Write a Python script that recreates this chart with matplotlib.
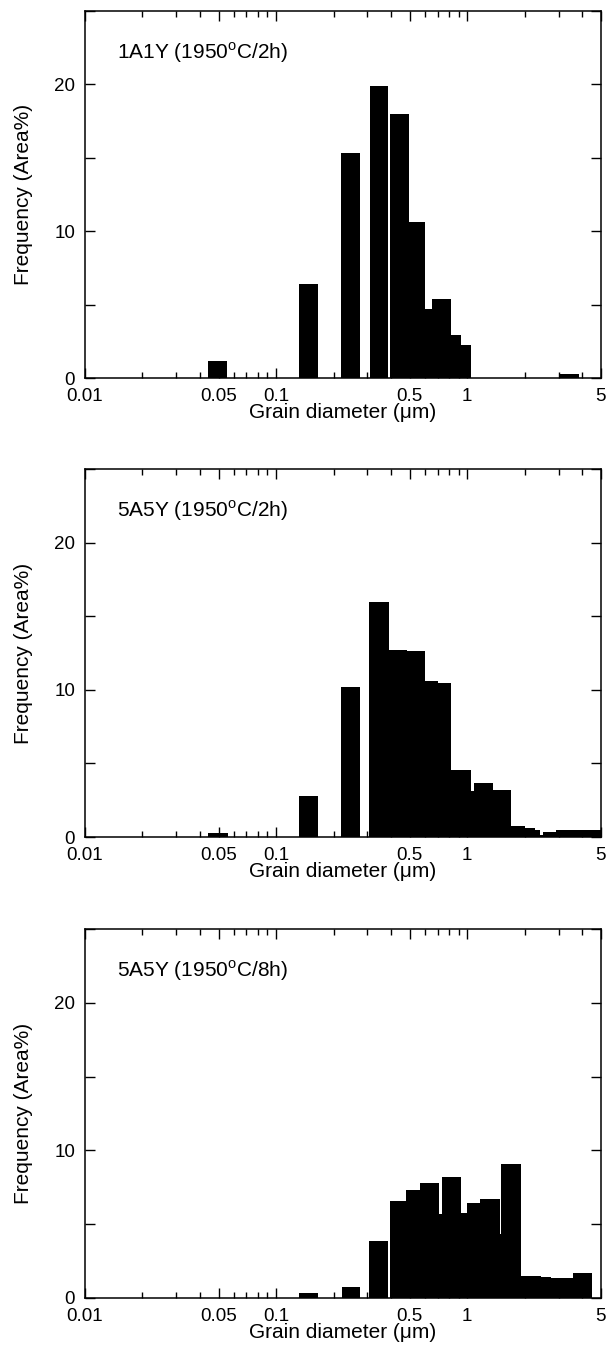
import numpy as np
import matplotlib
matplotlib.use('Agg')
import matplotlib.pyplot as plt
from matplotlib.ticker import FixedLocator, LogLocator, NullFormatter, MultipleLocator

plt.rcParams['font.family'] = ['Liberation Sans', 'DejaVu Sans']
plt.rcParams['mathtext.fontset'] = 'custom'
plt.rcParams['mathtext.rm'] = 'Liberation Sans'

# grain diameter bins (um): visible left / right edge of each bar
# and the frequency (area %) of that bar

# 1A1Y (1950C/2h)
left_1 = [0.0442, 0.132, 0.219, 0.308, 0.394, 0.497, 0.602, 0.657, 0.823, 0.927, 3.04]
right_1 = [0.0556, 0.1655, 0.275, 0.3845, 0.497, 0.602, 0.657, 0.823, 0.927, 1.04, 3.86]
freq_1 = [1.13, 6.41, 15.36, 19.93, 17.97, 10.62, 4.68, 5.36, 2.92, 2.28, 0.27]

# 5A5Y (1950C/2h)
left_2 = [0.0439, 0.132, 0.218, 0.306, 0.391, 0.483, 0.602, 0.706, 0.823, 1.043,
          1.088, 1.366, 1.70, 2.0, 2.25, 2.39, 2.49, 2.92, 3.23]
right_2 = [0.0558, 0.1655, 0.276, 0.388, 0.483, 0.602, 0.706, 0.823, 1.043, 1.088,
           1.366, 1.70, 2.0, 2.25, 2.39, 2.49, 2.92, 3.23, 5.0]
freq_2 = [0.25, 2.77, 10.18, 15.95, 12.73, 12.66, 10.59, 10.47, 4.55, 3.16,
          3.68, 3.22, 0.72, 0.61, 0.45, 0.15, 0.34, 0.45, 0.5]

# 5A5Y (1950C/8h)
left_3 = [0.132, 0.22, 0.3076, 0.3925, 0.477, 0.567, 0.712, 0.735, 0.927, 1.0,
          1.164, 1.48, 1.509, 1.918, 2.438, 2.749, 3.565]
right_3 = [0.1655, 0.275, 0.3845, 0.477, 0.567, 0.712, 0.735, 0.927, 1.0, 1.164,
           1.48, 1.509, 1.918, 2.438, 2.749, 3.565, 4.477]
freq_3 = [0.34, 0.73, 3.86, 6.58, 7.31, 7.76, 5.67, 8.21, 5.78, 6.46,
          6.73, 4.31, 9.07, 1.48, 1.43, 1.36, 1.68]

labels = ['1A1Y (1950$^{\\mathregular{o}}$C/2h)',
          '5A5Y (1950$^{\\mathregular{o}}$C/2h)',
          '5A5Y (1950$^{\\mathregular{o}}$C/8h)']

x_ticks = [0.01, 0.05, 0.1, 0.5, 1, 5]
x_ticklabels = ['0.01', '0.05', '0.1', '0.5', '1', '5']


def plot_panel(ax, left, right, freq, label):
    left = np.array(left)
    right = np.array(right)
    ax.bar(left, freq, width=right - left, align='edge', color='black', linewidth=0)

    ax.set_xscale('log')
    ax.set_xlim(0.01, 5)
    ax.set_ylim(0, 25)

    ax.xaxis.set_major_locator(FixedLocator(x_ticks))
    ax.set_xticklabels(x_ticklabels)
    ax.xaxis.set_minor_locator(LogLocator(base=10, subs=np.arange(2, 10)))
    ax.xaxis.set_minor_formatter(NullFormatter())
    ax.yaxis.set_major_locator(FixedLocator([0, 10, 20]))
    ax.yaxis.set_minor_locator(MultipleLocator(5))

    ax.tick_params(which='both', direction='in', top=True, right=True,
                   width=1.0, labelsize=13.5)
    ax.tick_params(axis='x', which='major', length=7, pad=7)
    ax.tick_params(axis='x', which='minor', length=4)
    ax.tick_params(axis='y', which='both', length=7, pad=7)
    for sp in ax.spines.values():
        sp.set_linewidth(1.1)

    ax.set_xlabel('Grain diameter (μm)', fontsize=15, labelpad=-1)
    ax.set_ylabel('Frequency (Area%)', fontsize=15, labelpad=15)
    ax.text(0.062, 0.888, label, transform=ax.transAxes, fontsize=15, va='center')


fig = plt.figure(figsize=(6.11, 13.54), dpi=100)

ax1 = fig.add_axes([0.139, 0.7208, 0.8445, 0.271])
ax2 = fig.add_axes([0.139, 0.3818, 0.8445, 0.2718])
ax3 = fig.add_axes([0.139, 0.0414, 0.8445, 0.2725])

plot_panel(ax1, left_1, right_1, freq_1, labels[0])
plot_panel(ax2, left_2, right_2, freq_2, labels[1])
plot_panel(ax3, left_3, right_3, freq_3, labels[2])

fig.savefig('out.png', dpi=100)
